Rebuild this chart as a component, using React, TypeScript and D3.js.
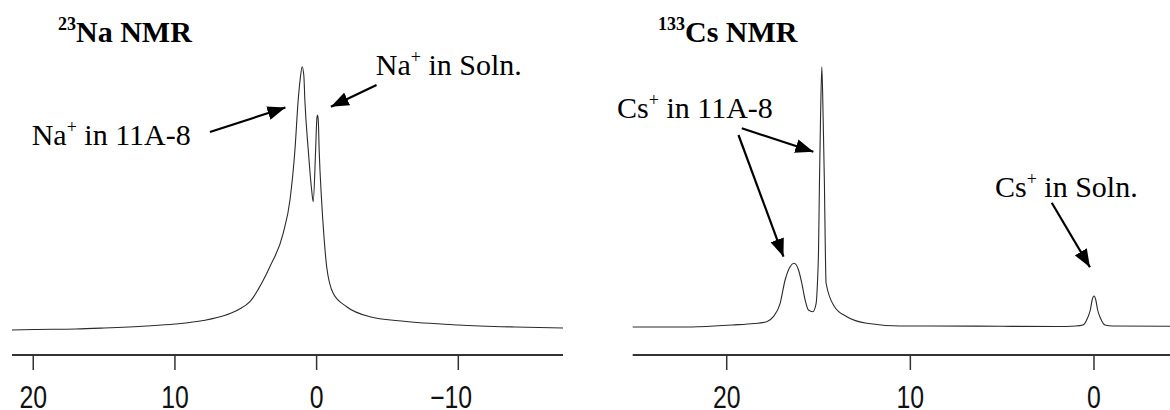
import React from 'react';
import * as d3 from 'd3';

// 23Na spectrum: chemical shift (ppm) and relative intensity
const NA_PPM = [21.5, 20, 17, 15, 12, 10, 8, 6.4, 5.5, 4.71, 3.88, 3.3, 2.36, 1.88, 1.53, 1.3, 1.15, 1.02, 0.9, 0.83, 0.59, 0.35, 0.24, 0.07, -0.02, -0.07, -0.12, -0.18, -0.35, -0.52, -0.71, -1.17, -2.12, -3.76, -6, -10, -14, -17.39];
const NA_INT = [1, 1.5, 2, 3, 5, 7, 10.5, 16, 21.5, 29.3, 47.7, 64.3, 97.7, 131, 181, 231, 253, 264.3, 255, 231, 181, 141, 129.3, 181, 213, 216, 210, 181, 131, 94.3, 64.3, 37.7, 24.3, 14.3, 10, 6, 4, 3];

// 133Cs spectrum: chemical shift (ppm) and relative intensity
const CS_PPM = [25.12, 22, 21.5, 19.7, 18.5, 17.82, 17.46, 17.09, 16.82, 16.55, 16.33, 16.09, 15.91, 15.73, 15.55, 15.31, 15.13, 15.06, 15.0, 14.95, 14.89, 14.82, 14.75, 14.68, 14.63, 14.59, 14.13, 13.46, 12.37, 10.56, 9, 5, 2, 1.0, 0.6, 0.35, 0.2, 0.1, 0.0, -0.1, -0.2, -0.35, -0.6, -1.0, -4.14];
const CS_INT = [4, 4, 4.3, 6, 7.5, 9.3, 14.3, 27.7, 51, 64.3, 67.7, 61, 47.7, 31, 21, 19.3, 27.7, 47.7, 81, 148, 214, 264.3, 214, 148, 81, 48, 24.3, 14.3, 7.7, 5, 5, 4.7, 4.5, 5, 6, 13, 21, 31, 35, 31, 21, 13, 6, 5, 4.7];

const NA_TICKS = [20, 10, 0, -10];
const CS_TICKS = [20, 10, 0];

// Annotations in data coordinates: [ppm, intensity]
const NA_NOTES = [
  { ion: 'Na', rest: ' in 11A-8', at: [20.11, 186], arrows: [[[7.53, 199], [2.2, 223.5]]] },
  { ion: 'Na', rest: ' in Soln.', at: [-4.18, 256], arrows: [[[-4.23, 246], [-1.01, 224.3]]] },
];
const CS_NOTES = [
  {
    ion: 'Cs', rest: ' in 11A-8', at: [25.97, 213],
    arrows: [[[19.18, 202.7], [15.28, 179.3]], [[19.36, 196], [16.91, 74.3]]],
  },
  { ion: 'Cs', rest: ' in Soln.', at: [5.39, 134], arrows: [[[2.3, 128.3], [0.22, 63.7]]] },
];

const W = 1170;
const H = 410;
const AXIS_Y = 355;
const TICK_LEN = 15;
const LABEL_Y = 408;
const SERIF = '"Liberation Serif", "Times New Roman", serif';
const SANS = '"Liberation Sans", Arial, sans-serif';

const y = d3.scaleLinear().domain([0, 264.3]).range([331, 66.7]);

type Note = { ion: string; rest: string; at: number[]; arrows: number[][][] };

interface PanelProps {
  id: string;
  mass: string;
  element: string;
  ppm: number[];
  intensity: number[];
  ticks: number[];
  domain: [number, number];
  range: [number, number];
  notes: Note[];
  titleAt: number;
}

function Panel({ id, mass, element, ppm, intensity, ticks, domain, range, notes, titleAt }: PanelProps) {
  const x = d3.scaleLinear().domain(domain).range(range);
  const pts = ppm.map((p, i) => [x(p), y(intensity[i])] as [number, number]);
  const path = d3.line().curve(d3.curveMonotoneX)(pts) || '';
  return (
    <g>
      <defs>
        <marker
          id={`${id}-head`}
          markerUnits="userSpaceOnUse"
          markerWidth={18}
          markerHeight={14}
          refX={18}
          refY={7}
          orient="auto"
        >
          <path d="M0,0 L18,7 L0,14 Z" fill="#000" />
        </marker>
      </defs>
      <path d={path} fill="none" stroke="#2a2a2a" strokeWidth={1.1} />
      <line x1={range[0]} x2={range[1]} y1={AXIS_Y} y2={AXIS_Y} stroke="#333" strokeWidth={2} />
      {ticks.map((t) => (
        <g key={t}>
          <line x1={x(t)} x2={x(t)} y1={AXIS_Y} y2={AXIS_Y + TICK_LEN} stroke="#333" strokeWidth={1.5} />
          <text
            transform={`translate(${x(t)},${LABEL_Y}) scale(0.8,1)`}
            dx={t < 0 ? -9 : 0}
            textAnchor="middle"
            fontFamily={SANS}
            fontSize={31}
            fill="#111"
          >
            {t < 0 ? `\u2212${Math.abs(t)}` : `${t}`}
          </text>
        </g>
      ))}
      <text x={titleAt} y={41.7} fontFamily={SERIF} fontWeight="bold" fontSize={30} fill="#000">
        <tspan fontSize={18} dy={-12}>{mass}</tspan>
        <tspan dy={12}>{element} NMR</tspan>
      </text>
      {notes.map((n, i) => (
        <g key={i}>
          <text
            x={x(n.at[0])}
            y={y(n.at[1])}
            fontFamily={SERIF}
            fontSize={30}
            fill="#000"
            style={{ whiteSpace: 'pre' }}
          >
            {n.ion}
            <tspan fontSize={18} dy={-12}>+</tspan>
            <tspan dy={12}>{n.rest}</tspan>
          </text>
          {n.arrows.map((a, j) => (
            <line
              key={j}
              x1={x(a[0][0])}
              y1={y(a[0][1])}
              x2={x(a[1][0])}
              y2={y(a[1][1])}
              stroke="#000"
              strokeWidth={2.2}
              markerEnd={`url(#${id}-head)`}
            />
          ))}
        </g>
      ))}
    </g>
  );
}

export default function App() {
  return (
    <svg
      width={W}
      height={H}
      viewBox={`0 0 ${W} ${H}`}
      style={{ position: 'absolute', left: 0, top: 0, background: '#fff' }}
    >
      <rect width={W} height={H} fill="#fff" />
      <Panel
        id="na"
        mass="23"
        element="Na"
        ppm={NA_PPM}
        intensity={NA_INT}
        ticks={NA_TICKS}
        domain={[21.5, -17.39]}
        range={[12, 563]}
        notes={NA_NOTES}
        titleAt={58}
      />
      <Panel
        id="cs"
        mass="133"
        element="Cs"
        ppm={CS_PPM}
        intensity={CS_INT}
        ticks={CS_TICKS}
        domain={[25.12, -4.14]}
        range={[632.7, 1170]}
        notes={CS_NOTES}
        titleAt={658}
      />
    </svg>
  );
}
